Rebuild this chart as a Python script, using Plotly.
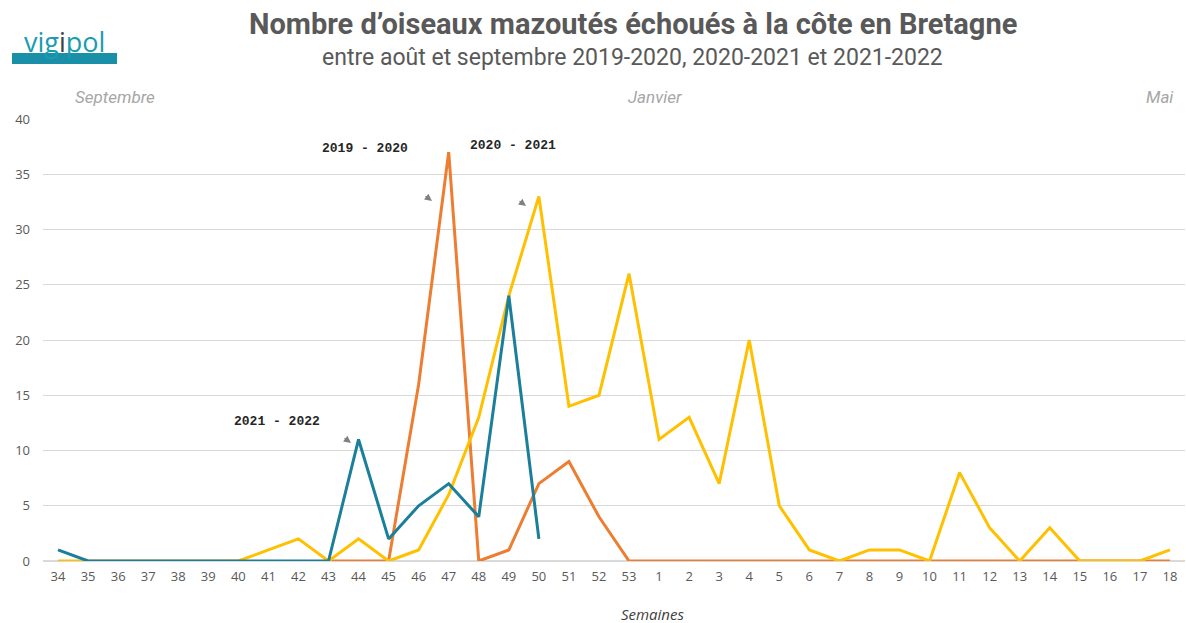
import plotly.graph_objects as go

weeks = [str(w) for w in list(range(34, 54)) + list(range(1, 19))]

s2019 = [None]*9 + [0, 0, 0, 16, 37, 0, 1, 7, 9, 4, 0] + [0]*18
s2020 = [0, 0, 0, 0, 0, 0, 0, 1, 2, 0, 2, 0, 1, 6, 13, 24, 33, 14, 15, 26,
         11, 13, 7, 20, 5, 1, 0, 1, 1, 0, 8, 3, 0, 3, 0, 0, 0, 1]
s2021 = [1, 0, 0, 0, 0, 0, 0, 0, 0, 0, 11, 2, 5, 7, 4, 24, 2] + [None]*21

series_names = ["2019-2020", "2020-2021", "2021-2022"]
colors = ["#ED7D31", "#FFC000", "#1B7F9B"]
month_labels = ["Septembre", "Janvier", "Mai"]

W, H = 1186, 623
L, R, T, B = 43, 1, 119, 62
pw, ph = W - L - R, H - T - B

def px(x):
    return (x - L) / pw

def py(y):
    return (H - B - y) / ph

fig = go.Figure()
for name, vals, c in zip(series_names, [s2019, s2020, s2021], colors):
    fig.add_trace(go.Scatter(x=weeks, y=vals, mode="lines", name=name,
                             line=dict(color=c, width=3), connectgaps=False))

fig.update_layout(
    width=W, height=H,
    margin=dict(l=L, r=R, t=T, b=B, autoexpand=False),
    plot_bgcolor="white", paper_bgcolor="white",
    showlegend=False,
    font=dict(family="Open Sans, Arial", color="#595959", size=13),
    xaxis=dict(type="category", categoryorder="array", categoryarray=weeks,
               range=[-0.5, 37.5], showgrid=False, zeroline=False, automargin=False,
               showline=False, ticks="", tickfont=dict(size=13, color="#595959"),
               ticklabelstandoff=6),
    yaxis=dict(range=[0, 40], dtick=5, showgrid=True, gridcolor="#D9D9D9",
               gridwidth=1, zeroline=True, zerolinecolor="#D9D9D9", automargin=False,
               ticks="", tickfont=dict(size=13, color="#595959"), ticklabelstandoff=12),
)

def txt(text, x, y, size, color, family="Roboto, Arial"):
    return dict(text=text, xref="paper", yref="paper", x=px(x), y=py(y),
                xanchor="center", yanchor="middle", showarrow=False,
                font=dict(family=family, size=size, color=color))

anns = []
anns.append(txt("<b>Nombre d’oiseaux mazoutés échoués à la côte en Bretagne</b>", 633, 24, 29, "#595959"))
anns.append(txt("entre août et septembre 2019-2020, 2020-2021 et 2021-2022", 632, 57, 23, "#595959"))
anns.append(txt("<i>Semaines</i>", 652, 614, 15, "#404040", "Open Sans, Arial"))
for t, x in zip(month_labels, [115, 655, 1160]):
    anns.append(txt("<i>" + t + "</i>", x, 97, 17, "#A6A6A6"))
for t, x, y in zip(series_names, [365, 513, 277], [148, 145, 421]):
    anns.append(txt("<b>" + t.replace("-", " - ") + "</b>", x, y, 13, "#262626",
                    "Liberation Mono, DejaVu Sans Mono"))
for x, y in [(432, 201), (526, 206), (351, 443)]:
    anns.append(dict(text="", xref="paper", yref="paper", x=px(x), y=py(y),
                     ax=-8, ay=-6, showarrow=True, arrowhead=2, arrowsize=1.2,
                     arrowwidth=1.2, arrowcolor="#808080"))
anns.append(txt("vig<span style='color:#404040'>i</span>pol", 64, 42, 27, "#1A9BB3", "Open Sans, Arial"))
fig.update_layout(annotations=anns)

fig.add_shape(type="rect", xref="paper", yref="paper", x0=px(12), x1=px(117),
              y0=py(64), y1=py(53), fillcolor="#1A8FA8", line=dict(width=0), layer="below")

fig.write_html("out.html", config={"displayModeBar": False},
               post_script="document.body.style.margin='0';document.body.style.overflow='hidden';")
